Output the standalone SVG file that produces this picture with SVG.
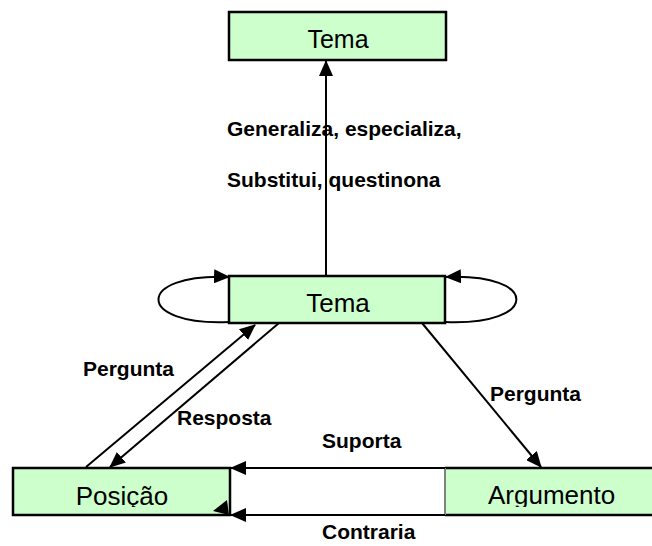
<svg xmlns="http://www.w3.org/2000/svg" width="652" height="546" viewBox="0 0 652 546">
  <style>
    .box { fill: #CCFFCC; stroke: #000; stroke-width: 2.5; }
    .btxt { font-family: "Liberation Sans", Arial, sans-serif; font-size: 26px; fill: #000; }
    .lbl { font-family: "Liberation Sans", Arial, sans-serif; font-size: 21px; font-weight: bold; fill: #000; }
    .edge { fill: none; stroke: #000; stroke-width: 2; }
  </style>
  <defs>
    <marker id="arrow" viewBox="0 0 16 14" refX="15" refY="7" markerWidth="16" markerHeight="14" markerUnits="userSpaceOnUse" orient="auto">
      <path d="M0,0 L16,7 L0,14 Z" fill="#000"/>
    </marker>
    <clipPath id="clipBottom">
      <rect x="0" y="0" width="652" height="507"/>
    </clipPath>
  </defs>
  <rect width="652" height="546" fill="#fff"/>

  <!-- white rectangle between Posicao and Argumento -->
  <rect x="230" y="468" width="215" height="47" fill="#fff" stroke="#808080" stroke-width="2"/>

  <g id="node-tema-top">
    <rect class="box" x="229" y="12" width="217" height="48"/>
    <text class="btxt" x="338" y="48" text-anchor="middle" style="font-size:25px">Tema</text>
  </g>

  <g id="node-tema">
    <rect class="box" x="229" y="276" width="216" height="47"/>
    <text class="btxt" x="338" y="312" text-anchor="middle">Tema</text>
  </g>

  <g id="node-posicao">
    <rect class="box" x="13" y="468" width="217" height="47"/>
    <text class="btxt" x="122" y="505" text-anchor="middle" clip-path="url(#clipBottom)">Posição</text>
    <polygon points="213,511 229,515 227,500" fill="#000"/>
  </g>

  <g id="node-argumento">
    <rect class="box" x="445" y="468" width="215" height="47" style="stroke-width:0"/>
    <line x1="445" y1="468" x2="652" y2="468" stroke="#000" stroke-width="2.5"/>
    <line x1="445" y1="515" x2="652" y2="515" stroke="#000" stroke-width="2.5"/>
    <line x1="445" y1="468" x2="445" y2="515" stroke="#808080" stroke-width="2"/>
    <text class="btxt" x="488" y="504" clip-path="url(#clipBottom)">Argumento</text>
  </g>

  <g id="connectors">
    <line class="edge" x1="326" y1="275" x2="326" y2="61" marker-end="url(#arrow)"/>
    <path class="edge" d="M229,322 C135,326 135,273 229,277" marker-end="url(#arrow)"/>
    <path class="edge" d="M445,322 C540,326 540,273 446,277" marker-end="url(#arrow)"/>
    <line class="edge" x1="86" y1="467" x2="255" y2="325" marker-end="url(#arrow)"/>
    <line class="edge" x1="279" y1="323" x2="110" y2="467" marker-end="url(#arrow)"/>
    <line class="edge" x1="422" y1="323" x2="541" y2="467" marker-end="url(#arrow)"/>
    <line class="edge" x1="445" y1="468" x2="231" y2="468" marker-end="url(#arrow)"/>
    <line class="edge" x1="445" y1="515" x2="231" y2="515" marker-end="url(#arrow)"/>
  </g>

  <g id="labels">
    <text class="lbl" x="227" y="136">Generaliza, especializa,</text>
    <text class="lbl" x="227" y="187">Substitui, questinona</text>
    <text class="lbl" x="83" y="376">Pergunta</text>
    <text class="lbl" x="177" y="425">Resposta</text>
    <text class="lbl" x="490" y="401">Pergunta</text>
    <text class="lbl" x="322" y="448">Suporta</text>
    <text class="lbl" x="322" y="539">Contraria</text>
  </g>
</svg>
